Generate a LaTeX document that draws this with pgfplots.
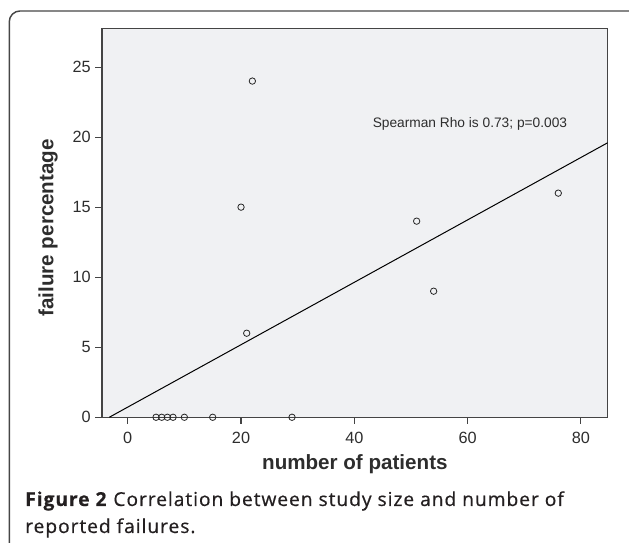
\documentclass[border=0pt]{standalone}
\usepackage{pgfplots}
\pgfplotsset{compat=1.18}
\usepackage{fontspec}
\setmainfont{Liberation Sans}
\newfontfamily\capfont[LetterSpace=5, FakeBold=0.6]{Open Sans}

\definecolor{plotbg}{RGB}{240,241,243}
\definecolor{axisgray}{RGB}{68,68,68}
\definecolor{textgray}{RGB}{45,45,45}
\definecolor{capcol}{RGB}{35,31,32}
\definecolor{framegray}{RGB}{70,70,70}

\begin{document}
\begin{tikzpicture}
% page = 629 x 543 px at 0.75pt per px
\useasboundingbox (0,0) rectangle (471.75pt,407.25pt);
\clip (0,0) rectangle (471.75pt,407.25pt);
\draw[framegray, line width=1.1pt, rounded corners=8pt]
  (6.98pt,-30pt) rectangle (520pt,399pt);

\begin{axis}[
    at={(76.5pt,94.3pt)}, anchor=south west,
    scale only axis,
    width=379.3pt, height=291.75pt,
    xmin=-4.54, xmax=84.73,
    ymin=0, ymax=27.77,
    xtick={0,20,40,60,80},
    ytick={0,5,10,15,20,25},
    tick align=outside,
    xtick pos=lower, ytick pos=left,
    major tick length=4.9pt,
    axis line style={axisgray, line width=0.8pt},
    tick style={axisgray, line width=0.8pt},
    axis background/.style={fill=plotbg},
    /pgf/number format/assume math mode=true,
    ticklabel style={font=\fontsize{12.2}{14}\selectfont, text=textgray},
    xticklabel style={yshift=-3pt},
    xlabel={number of patients},
    ylabel={failure percentage},
    label style={font=\bfseries\fontsize{15.45}{18}\selectfont, text=textgray},
    xlabel style={at={(axis description cs:0.5,-0.1337)}, anchor=base},
    ylabel style={at={(axis description cs:-0.0963,0.487)}, anchor=base},
    clip=true,
]
% scatter of studies
\addplot[only marks, mark=o, mark size=2.4pt,
         mark options={draw=black!85, line width=0.6pt}]
  coordinates {
    (5,0) (6,0) (7,0) (8,0) (10,0) (15,0) (29,0)
    (20,15) (21,6) (22,24) (51,14) (54,9) (76,16)
  };
% fit line
\addplot[black, line width=0.75pt, mark=none]
  coordinates {(-3.25,0) (84.73,19.6)};
\node[anchor=base, font=\fontsize{10.3}{12}\selectfont, text=textgray]
  at (axis cs:60.4,20.65) {Spearman Rho is 0.73; p=0.003};
\end{axis}

\node[anchor=base west, font=\capfont\fontsize{14.4}{16}\selectfont, text=capcol, inner sep=0pt]
  at (18.75pt,27.75pt) {\textbf{Figure 2} Correlation between study size and number of};
\node[anchor=base west, font=\capfont\fontsize{14.4}{16}\selectfont, text=capcol, inner sep=0pt]
  at (18.75pt,7.5pt) {reported failures.};
\end{tikzpicture}
\end{document}
